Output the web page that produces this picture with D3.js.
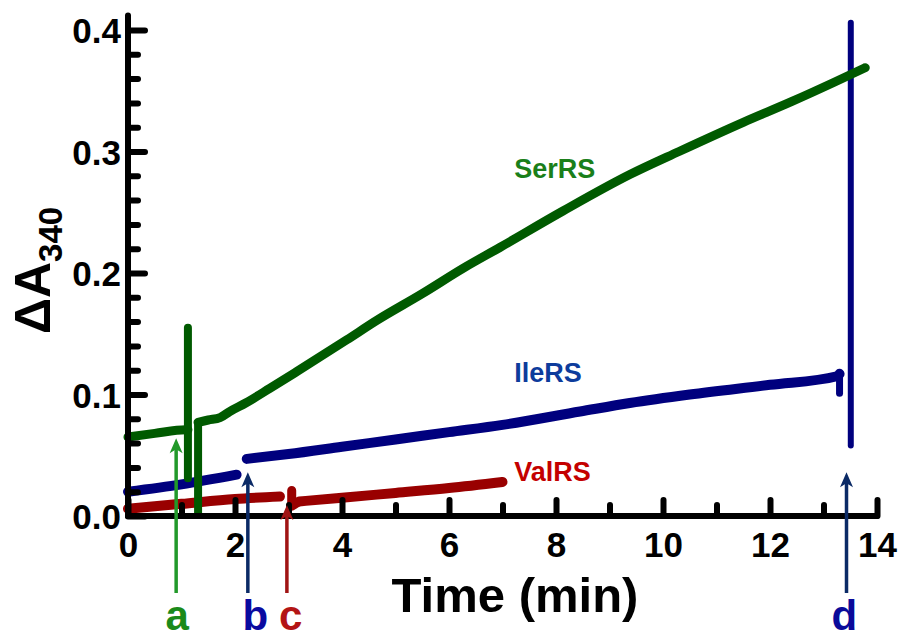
<!DOCTYPE html>
<html><head><meta charset="utf-8">
<script src="https://cdn.jsdelivr.net/npm/d3@7"></script>
<style>body{margin:0;background:#fff}svg{display:block}text{font-family:"Liberation Sans",Arial,sans-serif;font-weight:bold}</style>
</head><body><svg id="c" width="901" height="639"></svg>
<script>
// ---- data ----
const xMajorTicks = [0, 2, 4, 6, 8, 10, 12, 14];
const xMinorTicks = [1, 3, 5, 7, 9, 11, 13];
const yMajorTicks = [0.0, 0.1, 0.2, 0.3, 0.4];
const yMinorTicks = [0.02, 0.04, 0.06, 0.08, 0.12, 0.14, 0.16, 0.18, 0.22, 0.24, 0.26, 0.28, 0.32, 0.34, 0.36, 0.38];

// SerRS: baseline, spike at addition "a", restart, main progress curve
const serT1 = [0, 0.5, 1.08, 1.12];
const serV1 = [0.065, 0.068, 0.071, 0.071];
const serSpikeT = [1.12, 1.12];
const serSpikeV = [0.155, 0.031];
const serJumpT = [1.31, 1.31];
const serJumpV = [0.003, 0.077];
const serT2 = [1.31, 1.5, 1.72, 1.9, 2.2, 2.65, 3.16, 4.09, 4.65, 5.5, 6.27, 6.95, 8.13, 9.38, 10.3, 11.5, 12.4, 13.2, 13.78];
const serV2 = [0.077, 0.079, 0.081, 0.086, 0.093, 0.105, 0.119, 0.145, 0.161, 0.183, 0.204, 0.221, 0.251, 0.281, 0.300, 0.324, 0.341, 0.357, 0.369];

// IleRS
const ileT1 = [0, 1, 2.03];
const ileV1 = [0.020, 0.026, 0.034];
const ileT2 = [2.22, 3, 4, 5, 6, 7, 8.45, 9.38, 10.5, 12, 13.25, 13.3];
const ileV2 = [0.047, 0.051, 0.057, 0.063, 0.069, 0.075, 0.086, 0.093, 0.100, 0.108, 0.115, 0.117];
const ileHookT = [13.3, 13.3];
const ileHookV = [0.117, 0.101];
const ileDT = [13.51, 13.51];
const ileDV = [0.058, 0.406];

// ValRS
const valT1 = [0, 1, 2, 2.84];
const valV1 = [0.006, 0.010, 0.014, 0.016];
const valSpikeT = [3.06, 3.06, 3.2];
const valSpikeV = [0.021, 0.008, 0.012];
const valT2 = [3.2, 4, 5, 6, 7];
const valV2 = [0.012, 0.015, 0.019, 0.023, 0.028];

// series labels
const seriesNames = ["SerRS", "IleRS", "ValRS"];
const seriesLabelPos = [[7.22, 0.278], [7.22, 0.110], [7.22, 0.029]];

// addition markers a-d (time, arrow tip value)
const markerNames = ["a", "b", "c", "d"];
const markerT = [0.9, 2.24, 2.97, 13.43];
const markerTipV = [0.064, 0.036, 0.009, 0.036];
const labelT = [0.92, 2.38, 3.04, 13.39];

// ---- drawing ----
const svg = d3.select("#c");
const x = d3.scaleLinear().domain([0, 14]).range([128, 877]);
const y = d3.scaleLinear().domain([0, 0.4]).range([516, 30]);

const colSer = "#005a00", colIle = "#00007e", colVal = "#990000";
const lblCols = ["#1a7f1a", "#0d3c9c", "#c40000"];
const arrowCols = ["#22992a", "#0b2a66", "#a01414", "#0b2a66"];
const letterCols = ["#1a8a1a", "#0a0aa0", "#b31515", "#0a0a9a"];

const smooth = d3.line().x(d => x(d[0])).y(d => y(d[1])).curve(d3.curveMonotoneX);
const straight = d3.line().x(d => x(d[0])).y(d => y(d[1]));
const zip = (a, b) => a.map((t, i) => [t, b[i]]);

function drawSeries(t, v, col, w, gen) {
  svg.append("path").attr("d", (gen || smooth)(zip(t, v))).attr("fill", "none")
    .attr("stroke", col).attr("stroke-width", w)
    .attr("stroke-linecap", "round").attr("stroke-linejoin", "round");
}
drawSeries(valT1, valV1, colVal, 10);
drawSeries(valSpikeT, valSpikeV, colVal, 9, straight);
drawSeries(valT2, valV2, colVal, 10);
drawSeries(ileT1, ileV1, colIle, 10);
drawSeries(ileT2, ileV2, colIle, 10);
drawSeries(ileHookT, ileHookV, colIle, 7, straight);
drawSeries(ileDT, ileDV, colIle, 6, straight);
drawSeries(serT1, serV1, colSer, 9);
drawSeries(serSpikeT, serSpikeV, colSer, 8, straight);
drawSeries(serJumpT, serJumpV, colSer, 8, straight);
drawSeries(serT2, serV2, colSer, 9);

// axes
const ax = svg.append("g");
function styleAxis(g) {
  g.select(".domain").remove();
  g.selectAll(".tick line").attr("stroke", "#000").attr("stroke-width", 6).attr("stroke-linecap", "round");
  g.selectAll("text").attr("fill", "#000").style("font-size", "35px").style("font-family", "'Liberation Sans', Arial, sans-serif").style("font-weight", "bold");
}
const gxMin = ax.append("g").attr("transform", `translate(0,${y(0)})`)
  .call(d3.axisBottom(x).tickValues(xMinorTicks).tickSize(-11).tickFormat(""));
styleAxis(gxMin);
const gx = ax.append("g").attr("transform", `translate(0,${y(0)})`)
  .call(d3.axisBottom(x).tickValues(xMajorTicks).tickSizeInner(-16).tickSizeOuter(0).tickFormat(d3.format("d")));
styleAxis(gx);
gx.selectAll("text").attr("y", 16);

const gyMin = ax.append("g").attr("transform", `translate(${x(0)},0)`)
  .call(d3.axisLeft(y).tickValues(yMinorTicks).tickSize(-10).tickFormat(""));
styleAxis(gyMin);
const gy = ax.append("g").attr("transform", `translate(${x(0)},0)`)
  .call(d3.axisLeft(y).tickValues(yMajorTicks).tickSizeInner(-17).tickSizeOuter(0).tickFormat(d3.format(".1f")));
styleAxis(gy);
gy.selectAll("text").attr("x", -7).attr("dy", "0.36em");

// axis lines
ax.append("line").attr("x1", x(0)).attr("x2", x(14)).attr("y1", y(0)).attr("y2", y(0))
  .attr("stroke", "#000").attr("stroke-width", 6).attr("stroke-linecap", "round");
ax.append("line").attr("x1", x(0)).attr("x2", x(0)).attr("y1", y(0)).attr("y2", y(0.412))
  .attr("stroke", "#000").attr("stroke-width", 6).attr("stroke-linecap", "round");

// axis titles
svg.append("text").attr("x", 515).attr("y", 612).attr("text-anchor", "middle")
  .style("font-size", "49px").text("Time (min)");
const yt = svg.append("text").attr("transform", "translate(50,334) rotate(-90)").attr("text-anchor", "start");
yt.append("tspan").style("font-size", "50px").text("ΔA");
yt.append("tspan").attr("dy", 12).style("font-size", "33px").text("340");

// series labels
seriesNames.forEach((n, i) => {
  svg.append("text").attr("x", x(seriesLabelPos[i][0])).attr("y", y(seriesLabelPos[i][1]))
    .attr("fill", lblCols[i]).style("font-size", "27px").text(n);
});

// arrows
const arrowBottomY = 593;
markerNames.forEach((n, i) => {
  const ax0 = x(markerT[i]), tip = y(markerTipV[i]);
  svg.append("line").attr("x1", ax0).attr("x2", ax0).attr("y1", arrowBottomY).attr("y2", tip + 10)
    .attr("stroke", arrowCols[i]).attr("stroke-width", 3.5);
  svg.append("path").attr("d", `M${ax0},${tip} L${ax0 - 6.5},${tip + 15} L${ax0},${tip + 11} L${ax0 + 6.5},${tip + 15} Z`)
    .attr("fill", arrowCols[i]);
  svg.append("text").attr("x", x(labelT[i])).attr("y", 630).attr("text-anchor", "middle")
    .attr("fill", letterCols[i]).style("font-size", "42px").text(n);
});
</script></body></html>
